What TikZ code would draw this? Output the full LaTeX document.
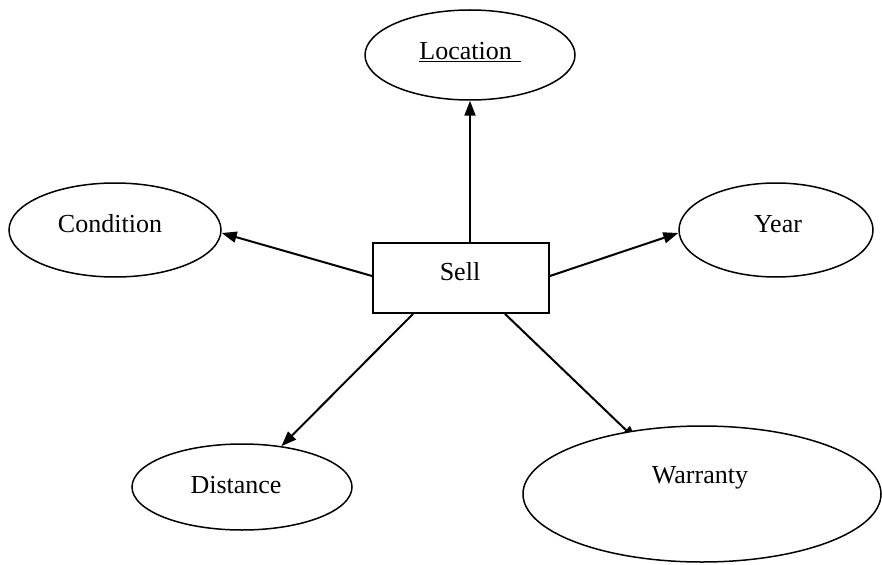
\documentclass[tikz,border=0pt]{standalone}
\usepackage{fontspec}
\setmainfont{Liberation Serif}
\usetikzlibrary{shapes.geometric,arrows.meta}
\pgfdeclarelayer{bg}
\pgfsetlayers{bg,main}

\begin{document}
\begin{tikzpicture}[x=1pt,y=-1pt,
  attr/.style={ellipse, draw, line width=1.5pt, fill=white, inner sep=0pt},
  entity/.style={rectangle, draw, line width=1.8pt, fill=white, inner sep=0pt,
                 minimum width=176pt, minimum height=70pt},
  lbl/.style={inner sep=0pt, anchor=base, font=\fontsize{26}{30}\selectfont},
  link/.style={line width=2pt, -{Triangle[length=15pt,width=11pt]}}]
\useasboundingbox (0,0) rectangle (882,564);

% central entity
\node[entity] (sell) at (461,278) {};
\node[lbl] (sell-t) at (460,280) {Sell};

% attributes
\node[attr, minimum width=210pt, minimum height=90pt] (location) at (470,55) {};
\node[lbl] (location-t) at (470,60) {\underline{Location\,\,}};

\node[attr, minimum width=212pt, minimum height=94pt] (condition) at (115,230) {};
\node[lbl] (condition-t) at (110,232) {Condition};

\node[attr, minimum width=194pt, minimum height=94pt] (year) at (776,230) {};
\node[lbl] (year-t) at (778,232) {Year};

\node[attr, minimum width=220pt, minimum height=86pt] (distance) at (242,487) {};
\node[lbl] (distance-t) at (236,493) {Distance};

\node[attr, minimum width=358pt, minimum height=136pt] (warranty) at (702,494) {};
\node[lbl] (warranty-t) at (700,483) {Warranty};

% connectors, kept behind the shapes
\begin{pgfonlayer}{bg}
\draw[link] ([xshift=9pt]sell.north) -- (location.south);
\draw[link] ([yshift=2pt]sell.west) -- ([yshift=-3pt]condition.east);
\draw[link] ([yshift=2pt]sell.east) -- ([yshift=-3pt]year.west);
\draw[link] ([xshift=-48pt]sell.south) -- (distance.46);
\draw[link, shorten >=-13pt] ([xshift=44pt]sell.south) -- (warranty.140);
\end{pgfonlayer}
\end{tikzpicture}
\end{document}
